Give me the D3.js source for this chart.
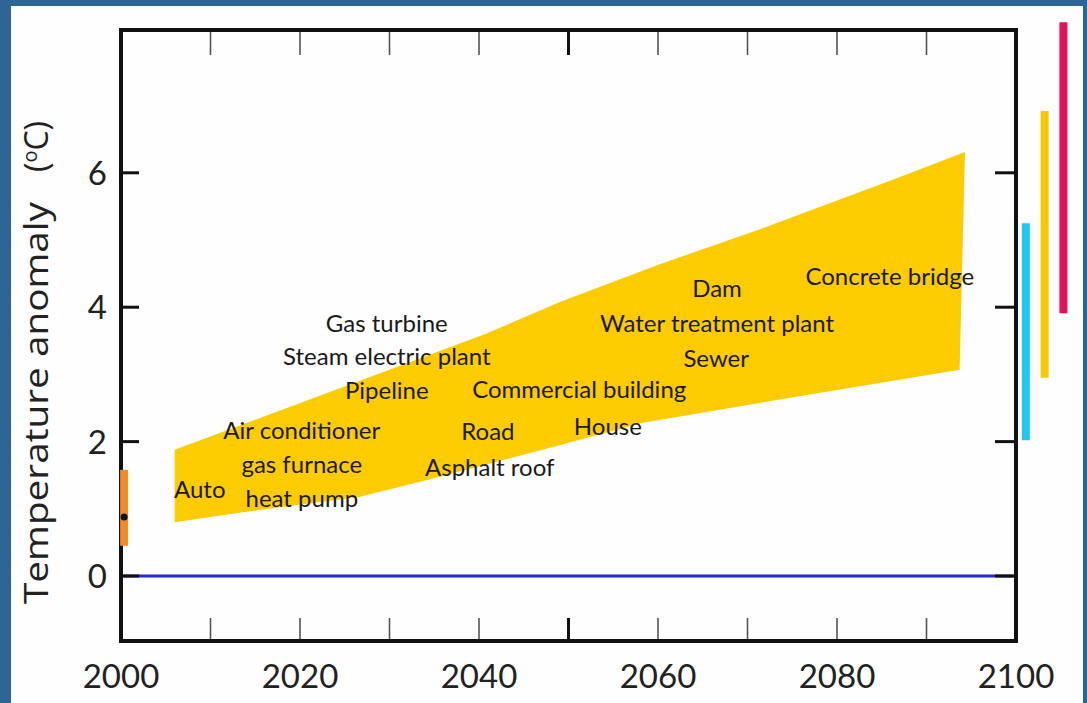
<!DOCTYPE html>
<html>
<head>
<meta charset="utf-8">
<script src="https://cdn.jsdelivr.net/npm/d3@7"></script>
<style>
  html, body { margin: 0; padding: 0; background: #2f6497; }
  svg { display: block; }
</style>
</head>
<body>
<script>
// ---------- data ----------
const xTicks = [2000, 2020, 2040, 2060, 2080, 2100];
const xMinorTicks = [2010, 2020, 2030, 2040, 2060, 2070, 2080, 2090];
const xMajorTicks = [2050];
const yTicks = [0, 2, 4, 6];

// projected range band (upper and lower edges: [year, °C])
const bandUpper = [[2006.0, 1.88], [2040.7, 3.60], [2049.1, 4.08], [2060.2, 4.64], [2071.4, 5.16], [2086.3, 5.90], [2094.3, 6.31]];
const bandLower = [[2006.0, 0.80], [2013.6, 0.95], [2026.7, 1.18], [2034.2, 1.43], [2049.1, 1.95], [2058.3, 2.28], [2075.1, 2.66], [2093.7, 3.07]];

// infrastructure lifetimes labels
const labelNames  = ["Auto", "Air conditioner", "gas furnace", "heat pump", "Gas turbine", "Steam electric plant", "Pipeline",
                     "Commercial building", "Road", "Asphalt roof", "House", "Dam", "Water treatment plant", "Sewer", "Concrete bridge"];
const labelYears  = [2008.8, 2020.2, 2020.2, 2020.2, 2029.7, 2029.7, 2029.7, 2051.2, 2041.0, 2041.2, 2054.4, 2066.6, 2066.6, 2066.5, 2085.9];
const labelValues = [1.16, 2.04, 1.53, 1.03, 3.63, 3.14, 2.63, 2.65, 2.02, 1.49, 2.10, 4.15, 3.63, 3.11, 4.33];

// present-day range (year 2000) and its central value
const presentRange = [0.45, 1.58];
const presentYear = 2000.35;
const presentValue = 0.88;

// scenario ranges at 2100 (drawn beyond the right axis)
const scenarioYears = [2101.1, 2103.2, 2105.3];
const scenarioLow   = [2.02, 2.95, 3.91];
const scenarioHigh  = [5.25, 6.92, 8.24];
const scenarioColors = ["#1ec8f2", "#f9c900", "#e5105a"];

// ---------- drawing ----------
const W = 1087, H = 703;
const svg = d3.select("body").append("svg").attr("width", W).attr("height", H);

svg.append("rect").attr("width", W).attr("height", H).attr("fill", "#2f6497");
svg.append("rect").attr("x", 11).attr("y", 6).attr("width", 1072).attr("height", 697).attr("fill", "#fefefe");

const plot = { left: 121, right: 1016, top: 30, bottom: 641 };
const x = d3.scaleLinear().domain([2000, 2100]).range([plot.left, plot.right]);
const y = d3.scaleLinear().domain([-0.967, 8.125]).range([plot.bottom, plot.top]);

const font = "Lato, 'Open Sans', sans-serif";

// band
const bandPoly = bandUpper.concat(bandLower.slice().reverse());
svg.append("path")
  .attr("d", d3.line().x(d => x(d[0])).y(d => y(d[1]))(bandPoly) + "Z")
  .attr("fill", "#fccc00");

// zero line
svg.append("line")
  .attr("x1", x(2000)).attr("x2", x(2100))
  .attr("y1", y(0)).attr("y2", y(0))
  .attr("stroke", "#2626d9").attr("stroke-width", 3);

// ticks top/bottom
const tickG = svg.append("g");
xMinorTicks.forEach(t => {
  tickG.append("line").attr("x1", x(t)).attr("x2", x(t)).attr("y1", plot.top).attr("y2", plot.top + 25)
    .attr("stroke", "#555").attr("stroke-width", 1.6);
  tickG.append("line").attr("x1", x(t)).attr("x2", x(t)).attr("y1", plot.bottom).attr("y2", plot.bottom - 23)
    .attr("stroke", "#555").attr("stroke-width", 1.6);
});
xMajorTicks.forEach(t => {
  tickG.append("line").attr("x1", x(t)).attr("x2", x(t)).attr("y1", plot.top).attr("y2", plot.top + 25)
    .attr("stroke", "#111").attr("stroke-width", 3);
  tickG.append("line").attr("x1", x(t)).attr("x2", x(t)).attr("y1", plot.bottom).attr("y2", plot.bottom - 23)
    .attr("stroke", "#111").attr("stroke-width", 3);
});
yTicks.forEach(t => {
  tickG.append("line").attr("x1", plot.left).attr("x2", plot.left + 18).attr("y1", y(t)).attr("y2", y(t))
    .attr("stroke", "#111").attr("stroke-width", 3);
  tickG.append("line").attr("x1", plot.right).attr("x2", plot.right - 21).attr("y1", y(t)).attr("y2", y(t))
    .attr("stroke", "#111").attr("stroke-width", 3);
});

// frame
svg.append("rect")
  .attr("x", plot.left).attr("y", plot.top)
  .attr("width", plot.right - plot.left).attr("height", plot.bottom - plot.top)
  .attr("fill", "none").attr("stroke", "#111").attr("stroke-width", 4);

// present-day bar
svg.append("line")
  .attr("x1", x(presentYear)).attr("x2", x(presentYear))
  .attr("y1", y(presentRange[0])).attr("y2", y(presentRange[1]))
  .attr("stroke", "#f28c28").attr("stroke-width", 8);
svg.append("circle").attr("cx", x(presentYear)).attr("cy", y(presentValue)).attr("r", 3.5).attr("fill", "#111");

// scenario bars
scenarioYears.forEach((yr, i) => {
  svg.append("line")
    .attr("x1", x(yr)).attr("x2", x(yr))
    .attr("y1", y(scenarioLow[i])).attr("y2", y(scenarioHigh[i]))
    .attr("stroke", scenarioColors[i]).attr("stroke-width", 8);
});

// tick labels
svg.append("g").selectAll("text").data(xTicks).join("text")
  .attr("x", d => x(d)).attr("y", 688)
  .attr("text-anchor", "middle")
  .attr("font-family", font).attr("font-size", 33).attr("fill", "#222")
  .text(d => d);
svg.append("g").selectAll("text").data(yTicks).join("text")
  .attr("x", 107).attr("y", d => y(d) + 12)
  .attr("text-anchor", "end")
  .attr("font-family", font).attr("font-size", 33).attr("fill", "#222")
  .text(d => d);

// axis title
const titleFont = "'Open Sans', Lato, sans-serif";
svg.append("text")
  .attr("transform", "translate(48,604) rotate(-90)")
  .attr("text-anchor", "start")
  .attr("font-family", titleFont).attr("font-size", 32).attr("fill", "#222")
  .attr("textLength", 402).attr("lengthAdjust", "spacingAndGlyphs")
  .text("Temperature anomaly");
const unit = svg.append("text")
  .attr("transform", "translate(48,172) rotate(-90)")
  .attr("text-anchor", "start")
  .attr("font-family", titleFont).attr("font-size", 32).attr("fill", "#222");
unit.append("tspan").text("(");
unit.append("tspan").attr("font-size", 20).attr("dy", -11).text("o");
unit.append("tspan").attr("dy", 11).text("C)");

// labels
svg.append("g").selectAll("text").data(labelNames).join("text")
  .attr("x", (d, i) => x(labelYears[i]))
  .attr("y", (d, i) => y(labelValues[i]))
  .attr("text-anchor", "middle")
  .attr("font-family", font).attr("font-size", 24).attr("fill", "#1a1a1a")
  .text(d => d);
</script>
</body>
</html>
